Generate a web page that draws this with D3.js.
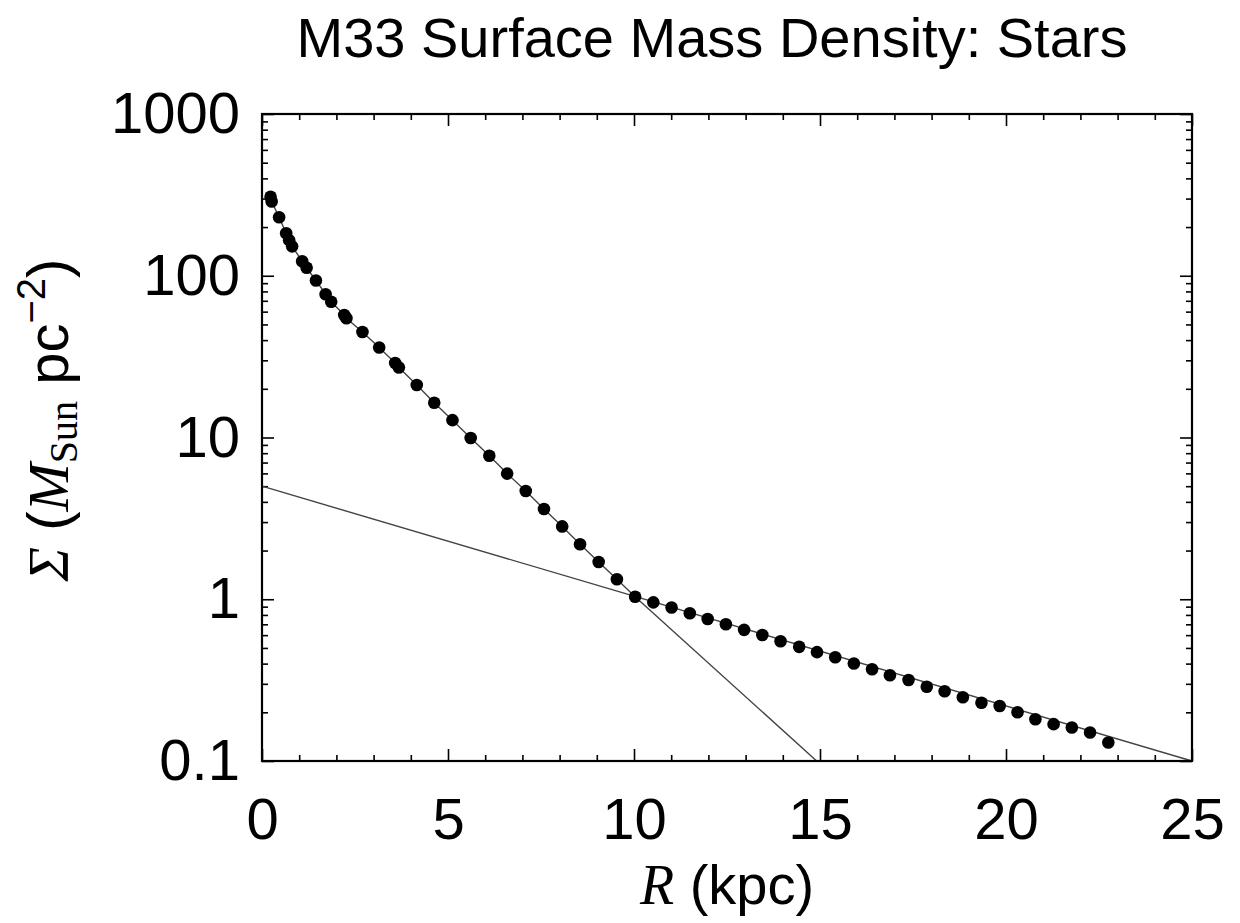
<!DOCTYPE html>
<html>
<head>
<meta charset="utf-8">
<script src="https://cdn.jsdelivr.net/npm/d3@7"></script>
<style>
  html, body { margin: 0; padding: 0; background: #fff; }
  svg { display: block; }
  text { font-family: "Liberation Sans", Arial, Helvetica, sans-serif; fill: #000; }
  .serif { font-family: "Liberation Serif", "Times New Roman", serif; }
</style>
</head>
<body>
<svg id="chart" width="1240" height="923"></svg>
<script>
// ---- data ----
const radius = [0.23, 0.26, 0.46, 0.65, 0.73, 0.81, 1.08, 1.20, 1.45, 1.71, 1.86, 2.21, 2.27, 2.70, 3.15, 3.58, 3.68,
  4.16, 4.63, 5.12, 5.61, 6.11, 6.59, 7.09, 7.58, 8.07, 8.55, 9.05, 9.54, 10.03,
  10.52, 11.01, 11.50, 11.98, 12.47, 12.96, 13.45, 13.94, 14.44, 14.92, 15.41, 15.91, 16.40, 16.88,
  17.38, 17.87, 18.35, 18.84, 19.34, 19.83, 20.31, 20.79, 21.28, 21.77, 22.26, 22.75];
const sigma = [308, 288, 230, 183, 166, 152, 123, 112, 93.5, 76.9, 69.1, 57.2, 54.6, 44.9, 36.0, 28.9, 27.1,
  21.1, 16.4, 12.8, 9.93, 7.71, 5.98, 4.67, 3.61, 2.82, 2.19, 1.70, 1.33, 1.037,
  0.957, 0.889, 0.820, 0.755, 0.700, 0.647, 0.601, 0.550, 0.508, 0.471, 0.438, 0.401, 0.369, 0.339,
  0.317, 0.288, 0.270, 0.248, 0.229, 0.219, 0.200, 0.181, 0.169, 0.161, 0.150, 0.130];
// inner (steep) profile line: follows the points inside 10 kpc, then straight down to the frame
const innerLineR = [0.23, 0.26, 0.46, 0.65, 0.73, 0.81, 1.08, 1.20, 1.45, 1.71, 1.86, 2.21, 2.27, 2.70, 3.15, 3.58, 3.68,
  4.16, 4.63, 5.12, 5.61, 6.11, 6.59, 7.09, 7.58, 8.07, 8.55, 9.05, 9.54, 10.03, 14.91];
const innerLineS = [308, 288, 230, 183, 166, 152, 123, 112, 93.5, 76.9, 69.1, 57.2, 54.6, 44.9, 36.0, 28.9, 27.1,
  21.1, 16.4, 12.8, 9.93, 7.71, 5.98, 4.67, 3.61, 2.82, 2.19, 1.70, 1.33, 1.037, 0.1];
// outer exponential disk line
const outerLineR = [0, 25];
const outerLineS = [5, 0.1];

const xMajor = [0, 5, 10, 15, 20, 25];
const xMinor = d3.range(0, 26).filter(v => v % 5 !== 0);
const yMajor = [0.1, 1, 10, 100, 1000];
const yMajorLabels = ["0.1", "1", "10", "100", "1000"];
const yMinor = [0.1, 1, 10, 100].flatMap(d => [2,3,4,5,6,7,8,9].map(k => +(d * k).toPrecision(3)));

const titleText = "M33 Surface Mass Density: Stars";

// ---- layout ----
const L = 262, R = 1192, T = 114, B = 761;
const svg = d3.select("#chart");
const x = d3.scaleLinear().domain([0, 25]).range([L, R]);
const y = d3.scaleLog().domain([0.1, 1000]).range([B, T]);

const fs = 58;
function axisStyle(g) {
  g.select(".domain").remove();
  g.selectAll(".tick line").attr("stroke", "#000").attr("stroke-width", 1.6);
  g.selectAll(".tick text").attr("font-size", fs).attr("font-family", "Liberation Sans, Arial, sans-serif").attr("fill", "#000");
}
// bottom
svg.append("g").attr("transform", `translate(0,${B})`)
  .call(d3.axisBottom(x).tickValues(xMajor).tickSize(-12).tickPadding(37).tickFormat(d3.format("d")))
  .call(axisStyle);
svg.append("g").attr("transform", `translate(0,${B})`)
  .call(d3.axisBottom(x).tickValues(xMinor).tickSize(-6).tickFormat(""))
  .call(axisStyle);
// top
svg.append("g").attr("transform", `translate(0,${T})`)
  .call(d3.axisTop(x).tickValues(xMajor).tickSize(-12).tickFormat(""))
  .call(axisStyle);
svg.append("g").attr("transform", `translate(0,${T})`)
  .call(d3.axisTop(x).tickValues(xMinor).tickSize(-6).tickFormat(""))
  .call(axisStyle);
// left
svg.append("g").attr("transform", `translate(${L},0)`)
  .call(d3.axisLeft(y).tickValues(yMajor).tickSize(-12).tickPadding(22).tickFormat((d, i) => yMajorLabels[i]))
  .call(axisStyle);
svg.append("g").attr("transform", `translate(${L},0)`)
  .call(d3.axisLeft(y).tickValues(yMinor).tickSize(-6).tickFormat(""))
  .call(axisStyle);
// right
svg.append("g").attr("transform", `translate(${R},0)`)
  .call(d3.axisRight(y).tickValues(yMajor).tickSize(-12).tickFormat(""))
  .call(axisStyle);
svg.append("g").attr("transform", `translate(${R},0)`)
  .call(d3.axisRight(y).tickValues(yMinor).tickSize(-6).tickFormat(""))
  .call(axisStyle);

// lines
const line = d3.line().x(d => x(d[0])).y(d => y(d[1]));
svg.append("path").datum(d3.zip(outerLineR, outerLineS)).attr("d", line)
  .attr("fill", "none").attr("stroke", "#444").attr("stroke-width", 1.4);
svg.append("path").datum(d3.zip(innerLineR, innerLineS)).attr("d", line)
  .attr("fill", "none").attr("stroke", "#444").attr("stroke-width", 1.4);

// points
svg.append("g").selectAll("circle").data(d3.zip(radius, sigma)).join("circle")
  .attr("cx", d => x(d[0])).attr("cy", d => y(d[1])).attr("r", 6.3).attr("fill", "#000");

// frame
svg.append("rect").attr("x", L).attr("y", T).attr("width", R - L).attr("height", B - T)
  .attr("fill", "none").attr("stroke", "#000").attr("stroke-width", 2.2);

// title
svg.append("text").attr("x", 712).attr("y", 57).attr("text-anchor", "middle")
  .attr("font-size", 56).text(titleText);

// x label
const xl = svg.append("text").attr("x", (L + R) / 2).attr("y", 904).attr("text-anchor", "middle").attr("font-size", 56);
xl.append("tspan").attr("class", "serif").attr("font-style", "italic").text("R");
xl.append("tspan").text(" (kpc)");

// y label
const yl = svg.append("text").attr("transform", `translate(68,420) rotate(-90)`)
  .attr("text-anchor", "middle").attr("font-size", 58);
yl.append("tspan").attr("class", "serif").attr("font-style", "italic").text("Σ");
yl.append("tspan").text(" (");
yl.append("tspan").attr("class", "serif").attr("font-style", "italic").text("M");
yl.append("tspan").attr("class", "serif").attr("font-size", 40).attr("dy", 9).text("Sun");
yl.append("tspan").attr("dy", -9).text(" pc");
yl.append("tspan").attr("font-size", 40).attr("dy", -23).text("−2");
yl.append("tspan").attr("dy", 23).text(")");
</script>
</body>
</html>
